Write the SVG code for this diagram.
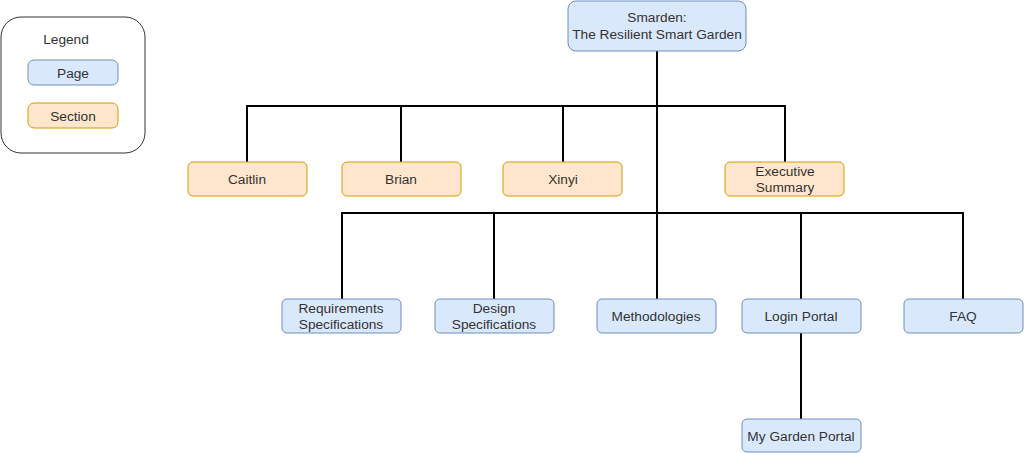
<svg xmlns="http://www.w3.org/2000/svg" width="1024" height="453" viewBox="0 0 1024 453">
<style>
.page{fill:#dae8fc;stroke:#6c8ebf;stroke-width:1}
.sec{fill:#ffe6cc;stroke:#d79b00;stroke-width:1}
text{font-family:"Liberation Sans",Arial,sans-serif;font-size:13.7px;fill:#333;text-anchor:middle}
.c{fill:none;stroke:#000;stroke-width:2}
</style>
<rect width="1024" height="453" fill="#fff"/>
<g id="legend">
<rect x="1" y="17" width="144" height="136" rx="20" fill="#fff" stroke="#333" stroke-width="1"/>
<text x="66" y="44">Legend</text>
<rect class="page" x="28" y="60" width="90" height="25" rx="6"/>
<text x="73" y="78">Page</text>
<rect class="sec" x="28" y="103" width="90" height="25" rx="6"/>
<text x="73" y="121">Section</text>
</g>
<g id="connectors">
<path class="c" d="M657 51V299M247 162V106H785V162M401 106V162M563 106V162M342 299V213H963V299M494 213V299M801 213V299M801 333V419"/>
</g>
<g id="root"><rect class="page" x="568" y="1" width="178" height="50" rx="8"/><text x="657" y="22">Smarden:</text><text x="657" y="39">The Resilient Smart Garden</text></g>
<g id="caitlin"><rect class="sec" x="188" y="162" width="119" height="34" rx="5"/><text x="247" y="184">Caitlin</text></g>
<g id="brian"><rect class="sec" x="342" y="162" width="119" height="34" rx="5"/><text x="401" y="184">Brian</text></g>
<g id="xinyi"><rect class="sec" x="503" y="162" width="119" height="34" rx="5"/><text x="563" y="184">Xinyi</text></g>
<g id="exec"><rect class="sec" x="725" y="162" width="119" height="34" rx="5"/><text x="785" y="176">Executive</text><text x="785" y="192">Summary</text></g>
<g id="req"><rect class="page" x="282" y="299" width="119" height="34" rx="5"/><text x="341" y="313">Requirements</text><text x="341" y="329">Specifications</text></g>
<g id="design"><rect class="page" x="435" y="299" width="119" height="34" rx="5"/><text x="494" y="313">Design</text><text x="494" y="329">Specifications</text></g>
<g id="method"><rect class="page" x="597" y="299" width="119" height="34" rx="5"/><text x="656" y="321">Methodologies</text></g>
<g id="login"><rect class="page" x="742" y="299" width="119" height="34" rx="5"/><text x="801" y="321">Login Portal</text></g>
<g id="faq"><rect class="page" x="904" y="299" width="119" height="34" rx="5"/><text x="963" y="321">FAQ</text></g>
<g id="mygarden"><rect class="page" x="742" y="419" width="119" height="33" rx="5"/><text x="801" y="441">My Garden Portal</text></g>
</svg>
